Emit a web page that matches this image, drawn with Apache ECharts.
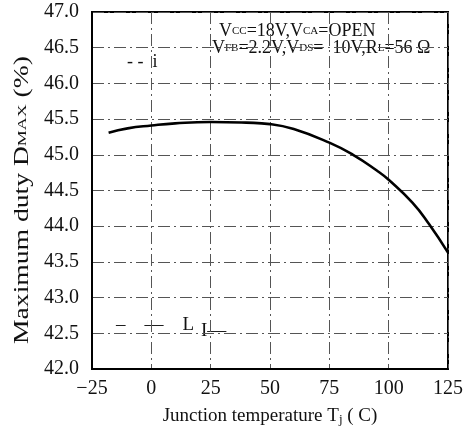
<!DOCTYPE html>
<html><head><meta charset="utf-8">
<script src="https://cdn.jsdelivr.net/npm/echarts@6/dist/echarts.min.js"></script>
<style>html,body{margin:0;padding:0;background:#fff}#c{width:466px;height:432px}</style>
</head><body><div id="c"></div>
<script>
var temperatures = [-18, -10, 0, 10, 25, 40, 50, 60, 75, 85, 95, 100, 110, 117, 125];
var dutyMax = [45.31, 45.37, 45.41, 45.44, 45.46, 45.45, 45.43, 45.36, 45.17, 45.0, 44.78, 44.65, 44.33, 44.03, 43.63];
var xTicks = [-25, 0, 25, 50, 75, 100, 125];
var yTicks = [42.0, 42.5, 43.0, 43.5, 44.0, 44.5, 45.0, 45.5, 46.0, 46.5, 47.0];

var serif = '"Liberation Serif", "Times New Roman", serif';
var chart = echarts.init(document.getElementById('c'), null, {renderer: 'canvas'});
var pts = temperatures.map(function (t, i) { return [t, dutyMax[i]]; });
var gridStyle = {show: true, lineStyle: {color: '#555', width: 1, type: [12, 4, 2, 4]}};

chart.setOption({
  animation: false,
  backgroundColor: '#fff',
  grid: {left: 92, right: 18, top: 12, bottom: 63, show: true, borderColor: '#000', borderWidth: 2, backgroundColor: 'transparent'},
  xAxis: {
    type: 'value', min: xTicks[0], max: xTicks[xTicks.length - 1], interval: 25,
    axisLine: {show: true, onZero: false, lineStyle: {color: '#000', width: 2}},
    axisTick: {show: false},
    splitLine: gridStyle,
    axisLabel: {
      color: '#111', fontFamily: serif, fontSize: 20, margin: 10,
      formatter: function (v) { return v < 0 ? '\u2212' + Math.abs(v) : String(v); }
    },
    name: 'Junction temperature T{s|j} ( C)', nameLocation: 'middle', nameGap: 38,
    nameTextStyle: {color: '#111', fontFamily: serif, fontSize: 19, rich: {s: {fontFamily: serif, fontSize: 13, verticalAlign: 'bottom', padding: [6, 0, 0, 0]}}}
  },
  yAxis: {
    type: 'value', min: yTicks[0], max: yTicks[yTicks.length - 1], interval: 0.5,
    axisLine: {show: true, onZero: false, lineStyle: {color: '#000', width: 2}},
    axisTick: {show: false},
    splitLine: gridStyle,
    axisLabel: {
      color: '#111', fontFamily: serif, fontSize: 20, margin: 13,
      formatter: function (v) { return v.toFixed(1); }
    }
  },
  graphic: [
    {type: 'text', x: 23, y: 200, rotation: Math.PI / 2, scaleX: 1.38,
      style: {text: 'Maximum duty D{s|MAX} (%)', fontFamily: serif, fontSize: 20, fill: '#111', align: 'center', verticalAlign: 'middle',
        rich: {s: {fontFamily: serif, fontSize: 13, fill: '#111'}}}},
    {type: 'text', left: 219, top: 22, style: {text: 'V{s|CC}=18V,V{s|CA}=OPEN', fontFamily: serif, fontSize: 18, fill: '#111',
      rich: {s: {fontFamily: serif, fontSize: 11, fill: '#111'}}}},
    {type: 'text', left: 212, top: 39, style: {text: 'V{s|FB}=2.2V,V{s|DS}=  10V,R{s|L}=56 \u03A9', fontFamily: serif, fontSize: 18, fill: '#111',
      rich: {s: {fontFamily: serif, fontSize: 11, fill: '#111'}}}},
    {type: 'text', left: 127, top: 53, style: {text: '- -  i', fontFamily: serif, fontSize: 18, fill: '#111'}},
    {type: 'text', left: 116, top: 316, style: {text: '\u2013    \u2014    L', fontFamily: serif, fontSize: 19, fill: '#111'}},
    {type: 'text', left: 201, top: 322, style: {text: 'I\u2014', fontFamily: serif, fontSize: 19, fill: '#111'}}
  ],
  series: [{
    type: 'line', data: pts, smooth: true, showSymbol: false,
    lineStyle: {color: '#000', width: 2.6}
  }]
});
</script></body></html>
